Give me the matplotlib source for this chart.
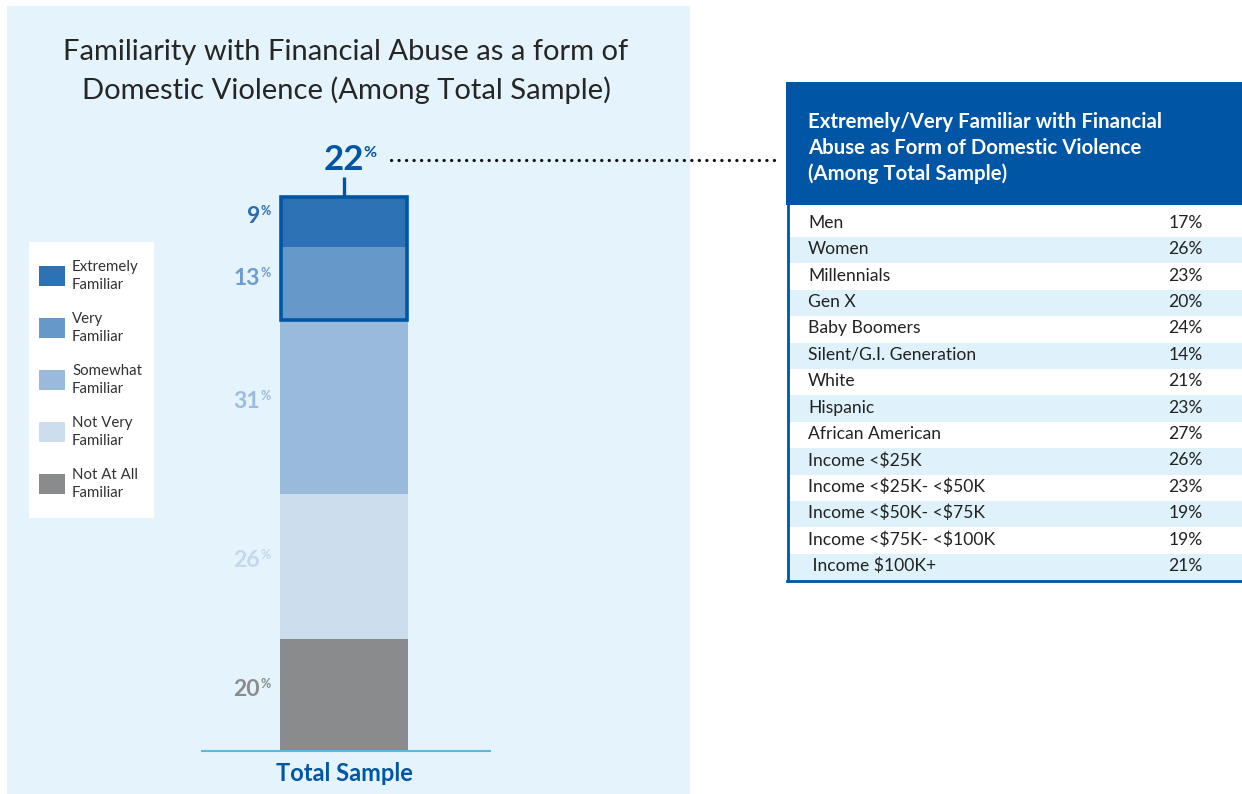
import matplotlib as m
m.use("Agg")
import matplotlib.pyplot as plt
from matplotlib.patches import Rectangle

plt.rcParams['font.family'] = ['Lato', 'DejaVu Sans']

# data
levels = ['Extremely\nFamiliar', 'Very\nFamiliar', 'Somewhat\nFamiliar',
          'Not Very\nFamiliar', 'Not At All\nFamiliar']
shares = [9, 13, 31, 26, 20]
seg_colors = ['#2E72B6', '#6699CA', '#99BADB', '#CCDDED', '#8A8B8D']
label_colors = ['#2B6CB2', '#6C9CD0', '#9CBCDF', '#C4D7EC', '#8A8B8D']
top2_total = 22

groups = ['Men', 'Women', 'Millennials', 'Gen X', 'Baby Boomers',
          'Silent/G.I. Generation', 'White', 'Hispanic', 'African American',
          'Income <$25K', 'Income <$25K- <$50K', 'Income <$50K- <$75K',
          'Income <$75K- <$100K', ' Income $100K+']
group_pct = [17, 26, 23, 20, 24, 14, 21, 23, 27, 26, 23, 19, 19, 21]

DARK = '#0055A5'
W, H = 1242, 794

fig = plt.figure(figsize=(W / 100, H / 100), dpi=100)

# background / annotation layer in pixel coords
bg = fig.add_axes([0, 0, 1, 1], zorder=0)
bg.set_xlim(0, W)
bg.set_ylim(H, 0)
bg.axis('off')
bg.add_patch(Rectangle((7, 6), 683, 790, color='#E5F4FC', lw=0))

bg.text(346, 52, 'Familiarity with Financial Abuse as a form of', ha='center', va='center',
        fontsize=21, color='#262626')
bg.text(346, 90, 'Domestic Violence (Among Total Sample)', ha='center', va='center',
        fontsize=21, color='#262626')

# legend
bg.add_patch(Rectangle((29, 242), 125, 276, color='white', lw=0))
for i, (lab, col) in enumerate(zip(levels, seg_colors)):
    yc = 276 + i * 52
    bg.add_patch(Rectangle((39, yc - 10), 26, 20, color=col, lw=0))
    bg.text(72, yc, lab, ha='left', va='center', fontsize=10.8, color='#333333',
            linespacing=1.3)

# stacked bar
ax = fig.add_axes([202 / W, (H - 751) / H, 288 / W, 559.6 / H], zorder=1)
ax.set_facecolor('none')
ax.set_xlim(-1.109, 1.141)
ax.set_ylim(0, 100)
for s in ax.spines.values():
    s.set_visible(False)
ax.set_xticks([])
ax.set_yticks([])

bottoms = []
b = 0
for v in shares[::-1]:
    bottoms.append(b)
    b += v
bottoms = bottoms[::-1]
ax.bar([0] * len(shares), shares, bottom=bottoms, width=1.0, color=seg_colors, lw=0)

for v, bt, col in zip(shares, bottoms, label_colors):
    yc = bt + v / 2 + 1
    ax.annotate(str(v), (-0.5, yc), xytext=(-14.5, 0), textcoords='offset points',
                ha='right', va='center', fontsize=16.5, fontweight='bold', color=col)
    ax.annotate('%', (-0.5, yc), xytext=(-14, 4), textcoords='offset points',
                ha='left', va='center', fontsize=9, fontweight='bold', color=col)

# highlight box around top two segments
box_bottom = bottoms[1]
box_top = bottoms[0] + shares[0]
ax.add_patch(Rectangle((-0.49, box_bottom), 0.98, box_top - box_bottom, fill=False,
                       ec=DARK, lw=2.6, zorder=3))
ax.plot([0, 0], [box_top, box_top + 3.6], color=DARK, lw=2.4, solid_capstyle='butt',
        clip_on=False)
ax.annotate(str(top2_total), (0, box_top + 6.7), xytext=(0, 0), textcoords='offset points',
            ha='center', va='center', fontsize=25, fontweight='bold', color=DARK,
            annotation_clip=False)
ax.annotate('%', (0.15, box_top + 7.8), ha='left', va='center', fontsize=11.5,
            fontweight='bold', color=DARK, annotation_clip=False)

ax.axhline(0, color='#5BB8E6', lw=1.5, xmin=0, xmax=1, clip_on=False)
ax.annotate('Total Sample', (0, 0), xytext=(0, -16), textcoords='offset points',
            ha='center', va='center', fontsize=17, fontweight='bold', color=DARK,
            annotation_clip=False)

# dotted leader line
bg.plot([391, 776], [160, 160], color='#111111', lw=2.3, linestyle=(0, (0.05, 2.3)),
        dash_capstyle='round')

# table
bg.add_patch(Rectangle((786, 82), W - 786, 123, color=DARK, lw=0))
bg.text(808, 148, 'Extremely/Very Familiar with Financial\nAbuse as Form of Domestic Violence\n(Among Total Sample)',
        ha='left', va='center', fontsize=14.7, fontweight='bold', color='white', linespacing=1.34)

row_top = 210.6
row_h = 26.4
for i, (g, p) in enumerate(zip(groups, group_pct)):
    y0 = row_top + i * row_h
    if i % 2 == 1:
        bg.add_patch(Rectangle((787, y0), W - 787, row_h, color='#DFF1FA', lw=0))
    bg.text(808, y0 + row_h / 2 - 1, g, ha='left', va='center', fontsize=12.6,
            color='#222222', parse_math=False)
    bg.text(1203, y0 + row_h / 2 - 1, f'{p}%', ha='right', va='center', fontsize=12.6,
            color='#222222')

table_bottom = row_top + len(groups) * row_h
bg.plot([787.5, 787.5], [205, table_bottom + 1], color=DARK, lw=2)
bg.plot([787, W], [table_bottom + 1, table_bottom + 1], color=DARK, lw=2)

fig.savefig('out.png', dpi=100)
